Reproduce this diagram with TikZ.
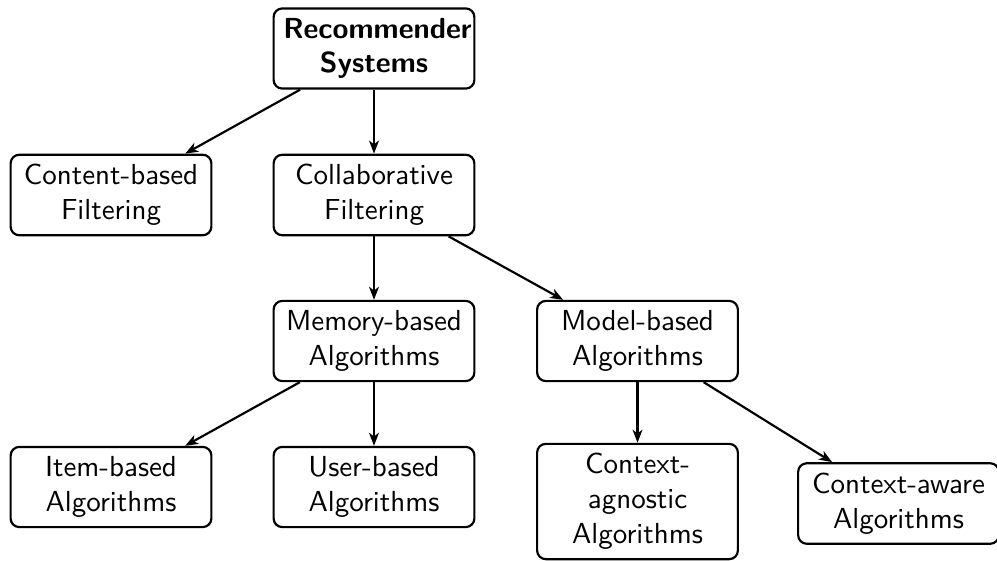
\documentclass[tikz,border=0pt]{standalone}
\usepackage{fontspec}
\usetikzlibrary{arrows.meta}
\begin{document}
\begin{tikzpicture}[x=0.345pt,y=-0.345pt,
  box/.style={draw,line width=0.75pt,rounded corners=3pt,text width=2.2cm,align=center,font=\sffamily,inner sep=0.3333em},
  conn/.style={line width=0.75pt,-{Stealth[length=4.5pt,width=3.4pt,inset=1.3pt]}}]
\useasboundingbox (0,0) rectangle (997,560);
\node[box,font=\sffamily\bfseries] (rec) at (374,48.5) {Recommender Systems};
\node[box] (cbf) at (111,195) {Content-based Filtering};
\node[box] (cf) at (374,195) {Collaborative Filtering};
\node[box] (mem) at (374,341) {Memory-based Algorithms};
\node[box] (mod) at (637.5,341) {Model-based Algorithms};
\node[box] (item) at (111,487) {Item-based Algorithms};
\node[box] (user) at (374,487) {User-based Algorithms};
\node[box] (cag) at (637.5,501.5) {Context-agnostic Algorithms};
\node[box] (caw) at (898.5,503.5) {Context-aware Algorithms};
\draw[conn] (rec) -- (cbf);
\draw[conn] (rec) -- (cf);
\draw[conn] (cf) -- (mem);
\draw[conn] (cf) -- (mod);
\draw[conn] (mem) -- (item);
\draw[conn] (mem) -- (user);
\draw[conn] (mod) -- (cag);
\draw[conn] (mod) -- (caw);
\end{tikzpicture}
\end{document}
